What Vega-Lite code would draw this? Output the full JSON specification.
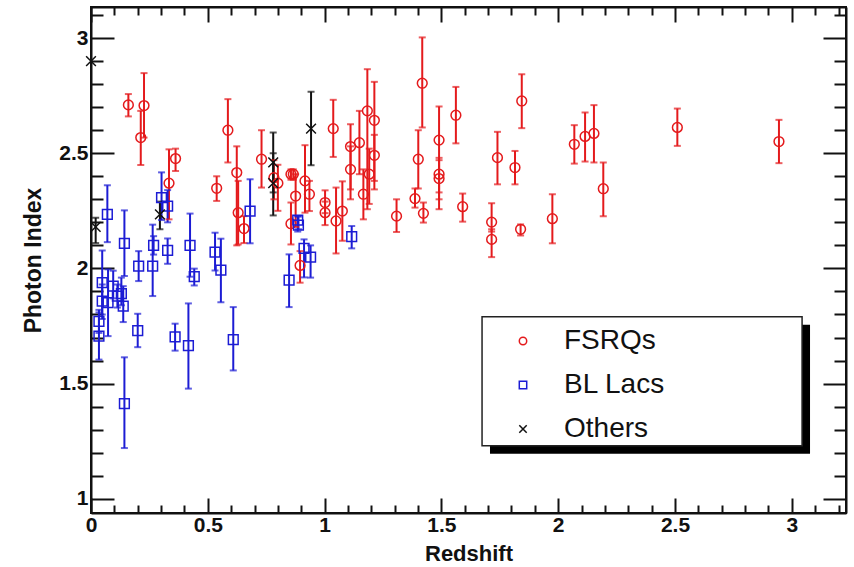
{
  "$schema": "https://vega.github.io/schema/vega-lite/v6.json",
  "width": 755,
  "height": 506,
  "autosize": {"type": "none"},
  "padding": {"left": 91, "top": 7, "right": 8, "bottom": 54},
  "background": "#ffffff",
  "config": {
    "view": {"stroke": "#111111", "strokeWidth": 2},
    "font": "Liberation Sans",
    "axis": {"grid": false, "labelOverlap": false, "labelFlush": false, "labelBound": false, "domainColor": "#111111", "domainWidth": 2, "tickColor": "#111111", "tickWidth": 2, "labelColor": "#111111", "titleColor": "#111111", "labelFont": "Liberation Sans", "titleFont": "Liberation Sans", "labelFontWeight": "bold", "titleFontWeight": "bold"}
  },
  "datasets": {
    "box": [{"k": 1}],
    "pts": [
      {"type": "FSRQs", "z": 0.160, "g": 2.710, "lo": 2.660, "hi": 2.757},
      {"type": "FSRQs", "z": 0.227, "g": 2.707, "lo": 2.568, "hi": 2.848},
      {"type": "FSRQs", "z": 0.213, "g": 2.568, "lo": 2.449, "hi": 2.684},
      {"type": "FSRQs", "z": 0.334, "g": 2.370, "lo": 2.213, "hi": 2.517},
      {"type": "FSRQs", "z": 0.362, "g": 2.477, "lo": 2.423, "hi": 2.520},
      {"type": "FSRQs", "z": 0.538, "g": 2.348, "lo": 2.293, "hi": 2.400},
      {"type": "FSRQs", "z": 0.586, "g": 2.600, "lo": 2.460, "hi": 2.735},
      {"type": "FSRQs", "z": 0.624, "g": 2.416, "lo": 2.100, "hi": 2.530},
      {"type": "FSRQs", "z": 0.630, "g": 2.242, "lo": 2.104, "hi": 2.380},
      {"type": "FSRQs", "z": 0.655, "g": 2.173, "lo": 2.110, "hi": 2.227},
      {"type": "FSRQs", "z": 0.730, "g": 2.474, "lo": 2.351, "hi": 2.600},
      {"type": "FSRQs", "z": 0.783, "g": 2.394, "lo": 2.300, "hi": 2.470},
      {"type": "FSRQs", "z": 0.800, "g": 2.370, "lo": 2.250, "hi": 2.450},
      {"type": "FSRQs", "z": 0.856, "g": 2.409, "lo": 2.385, "hi": 2.430},
      {"type": "FSRQs", "z": 0.866, "g": 2.409, "lo": 2.385, "hi": 2.430},
      {"type": "FSRQs", "z": 0.876, "g": 2.314, "lo": 2.180, "hi": 2.409},
      {"type": "FSRQs", "z": 0.856, "g": 2.194, "lo": 2.104, "hi": 2.286},
      {"type": "FSRQs", "z": 0.895, "g": 2.013, "lo": 1.938, "hi": 2.075},
      {"type": "FSRQs", "z": 0.916, "g": 2.380, "lo": 2.242, "hi": 2.535},
      {"type": "FSRQs", "z": 0.935, "g": 2.322, "lo": 2.249, "hi": 2.380},
      {"type": "FSRQs", "z": 1.002, "g": 2.286, "lo": 2.240, "hi": 2.339},
      {"type": "FSRQs", "z": 1.002, "g": 2.242, "lo": 2.188, "hi": 2.290},
      {"type": "FSRQs", "z": 1.037, "g": 2.607, "lo": 2.484, "hi": 2.732},
      {"type": "FSRQs", "z": 1.049, "g": 2.206, "lo": 2.065, "hi": 2.351},
      {"type": "FSRQs", "z": 1.076, "g": 2.249, "lo": 2.120, "hi": 2.378},
      {"type": "FSRQs", "z": 1.111, "g": 2.529, "lo": 2.343, "hi": 2.626},
      {"type": "FSRQs", "z": 1.111, "g": 2.430, "lo": 2.300, "hi": 2.530},
      {"type": "FSRQs", "z": 1.149, "g": 2.546, "lo": 2.409, "hi": 2.684},
      {"type": "FSRQs", "z": 1.166, "g": 2.322, "lo": 2.213, "hi": 2.430},
      {"type": "FSRQs", "z": 1.183, "g": 2.684, "lo": 2.257, "hi": 2.865},
      {"type": "FSRQs", "z": 1.191, "g": 2.409, "lo": 2.280, "hi": 2.520},
      {"type": "FSRQs", "z": 1.213, "g": 2.643, "lo": 2.343, "hi": 2.810},
      {"type": "FSRQs", "z": 1.213, "g": 2.491, "lo": 2.380, "hi": 2.580},
      {"type": "FSRQs", "z": 1.308, "g": 2.227, "lo": 2.158, "hi": 2.300},
      {"type": "FSRQs", "z": 1.387, "g": 2.303, "lo": 2.264, "hi": 2.347},
      {"type": "FSRQs", "z": 1.401, "g": 2.474, "lo": 2.347, "hi": 2.600},
      {"type": "FSRQs", "z": 1.418, "g": 2.804, "lo": 2.612, "hi": 3.003},
      {"type": "FSRQs", "z": 1.423, "g": 2.239, "lo": 2.199, "hi": 2.286},
      {"type": "FSRQs", "z": 1.490, "g": 2.557, "lo": 2.257, "hi": 2.703},
      {"type": "FSRQs", "z": 1.490, "g": 2.409, "lo": 2.330, "hi": 2.480},
      {"type": "FSRQs", "z": 1.490, "g": 2.390, "lo": 2.300, "hi": 2.470},
      {"type": "FSRQs", "z": 1.562, "g": 2.665, "lo": 2.543, "hi": 2.788},
      {"type": "FSRQs", "z": 1.591, "g": 2.268, "lo": 2.203, "hi": 2.325},
      {"type": "FSRQs", "z": 1.715, "g": 2.201, "lo": 2.160, "hi": 2.283},
      {"type": "FSRQs", "z": 1.715, "g": 2.126, "lo": 2.049, "hi": 2.170},
      {"type": "FSRQs", "z": 1.740, "g": 2.481, "lo": 2.365, "hi": 2.593},
      {"type": "FSRQs", "z": 1.815, "g": 2.438, "lo": 2.365, "hi": 2.510},
      {"type": "FSRQs", "z": 1.839, "g": 2.170, "lo": 2.143, "hi": 2.191},
      {"type": "FSRQs", "z": 1.844, "g": 2.727, "lo": 2.609, "hi": 2.843},
      {"type": "FSRQs", "z": 1.975, "g": 2.216, "lo": 2.109, "hi": 2.322},
      {"type": "FSRQs", "z": 2.069, "g": 2.539, "lo": 2.455, "hi": 2.622},
      {"type": "FSRQs", "z": 2.115, "g": 2.573, "lo": 2.464, "hi": 2.677},
      {"type": "FSRQs", "z": 2.153, "g": 2.586, "lo": 2.460, "hi": 2.709},
      {"type": "FSRQs", "z": 2.193, "g": 2.346, "lo": 2.227, "hi": 2.460},
      {"type": "FSRQs", "z": 2.510, "g": 2.612, "lo": 2.532, "hi": 2.694},
      {"type": "FSRQs", "z": 2.945, "g": 2.551, "lo": 2.457, "hi": 2.645},
      {"type": "BL Lacs", "z": 0.070, "g": 2.235, "lo": 2.114, "hi": 2.361},
      {"type": "BL Lacs", "z": 0.143, "g": 2.109, "lo": 1.967, "hi": 2.252},
      {"type": "BL Lacs", "z": 0.204, "g": 2.010, "lo": 1.945, "hi": 2.075},
      {"type": "BL Lacs", "z": 0.264, "g": 2.010, "lo": 1.880, "hi": 2.190},
      {"type": "BL Lacs", "z": 0.268, "g": 2.100, "lo": 2.060, "hi": 2.140},
      {"type": "BL Lacs", "z": 0.328, "g": 2.078, "lo": 2.020, "hi": 2.130},
      {"type": "BL Lacs", "z": 0.302, "g": 2.307, "lo": 2.210, "hi": 2.417},
      {"type": "BL Lacs", "z": 0.328, "g": 2.270, "lo": 2.200, "hi": 2.340},
      {"type": "BL Lacs", "z": 0.424, "g": 2.100, "lo": 1.964, "hi": 2.238},
      {"type": "BL Lacs", "z": 0.442, "g": 1.964, "lo": 1.926, "hi": 1.999},
      {"type": "BL Lacs", "z": 0.531, "g": 2.071, "lo": 1.991, "hi": 2.155},
      {"type": "BL Lacs", "z": 0.556, "g": 1.993, "lo": 1.853, "hi": 2.129},
      {"type": "BL Lacs", "z": 0.681, "g": 2.249, "lo": 2.109, "hi": 2.387},
      {"type": "BL Lacs", "z": 0.848, "g": 1.949, "lo": 1.832, "hi": 2.061},
      {"type": "BL Lacs", "z": 0.888, "g": 2.188, "lo": 2.170, "hi": 2.225},
      {"type": "BL Lacs", "z": 0.885, "g": 2.210, "lo": 2.160, "hi": 2.227},
      {"type": "BL Lacs", "z": 0.912, "g": 2.087, "lo": 1.961, "hi": 2.126},
      {"type": "BL Lacs", "z": 0.940, "g": 2.049, "lo": 1.960, "hi": 2.100},
      {"type": "BL Lacs", "z": 1.116, "g": 2.138, "lo": 2.087, "hi": 2.184},
      {"type": "BL Lacs", "z": 0.609, "g": 1.691, "lo": 1.557, "hi": 1.832},
      {"type": "BL Lacs", "z": 0.417, "g": 1.665, "lo": 1.478, "hi": 1.848},
      {"type": "BL Lacs", "z": 0.360, "g": 1.703, "lo": 1.643, "hi": 1.760},
      {"type": "BL Lacs", "z": 0.200, "g": 1.730, "lo": 1.658, "hi": 1.803},
      {"type": "BL Lacs", "z": 0.143, "g": 1.413, "lo": 1.220, "hi": 1.614},
      {"type": "BL Lacs", "z": 0.034, "g": 1.770, "lo": 1.720, "hi": 1.820},
      {"type": "BL Lacs", "z": 0.034, "g": 1.706, "lo": 1.604, "hi": 1.809},
      {"type": "BL Lacs", "z": 0.048, "g": 1.938, "lo": 1.800, "hi": 2.078},
      {"type": "BL Lacs", "z": 0.048, "g": 1.858, "lo": 1.780, "hi": 1.930},
      {"type": "BL Lacs", "z": 0.073, "g": 1.851, "lo": 1.706, "hi": 1.996},
      {"type": "BL Lacs", "z": 0.095, "g": 1.923, "lo": 1.870, "hi": 1.990},
      {"type": "BL Lacs", "z": 0.113, "g": 1.880, "lo": 1.830, "hi": 1.930},
      {"type": "BL Lacs", "z": 0.130, "g": 1.891, "lo": 1.840, "hi": 1.960},
      {"type": "BL Lacs", "z": 0.138, "g": 1.836, "lo": 1.767, "hi": 1.923},
      {"type": "Others", "z": 0.000, "g": 2.900, "lo": null, "hi": null},
      {"type": "Others", "z": 0.020, "g": 2.180, "lo": 2.110, "hi": 2.220},
      {"type": "Others", "z": 0.295, "g": 2.235, "lo": 2.170, "hi": 2.290},
      {"type": "Others", "z": 0.780, "g": 2.460, "lo": 2.330, "hi": 2.590},
      {"type": "Others", "z": 0.780, "g": 2.370, "lo": 2.230, "hi": 2.500},
      {"type": "Others", "z": 0.942, "g": 2.607, "lo": 2.448, "hi": 2.767}
    ]
  },
  "layer": [
    {
      "data": {"name": "box"},
      "mark": {"type": "rect", "fill": "#000000"},
      "encoding": {
        "x": {"datum": 1.708, "type": "quantitative", "scale": {"domain": [0, 3.232], "nice": false, "zero": false}, "axis": null},
        "x2": {"datum": 3.078},
        "y": {"datum": 1.755, "type": "quantitative", "scale": {"domain": [0.938, 3.135], "nice": false, "zero": false}, "axis": null},
        "y2": {"datum": 1.195}
      }
    },
    {
      "data": {"name": "box"},
      "mark": {"type": "rect", "fill": "#ffffff", "stroke": "#222222", "strokeWidth": 1.5},
      "encoding": {
        "x": {"datum": 1.674, "type": "quantitative", "scale": {"domain": [0, 3.232], "nice": false, "zero": false}, "axis": null},
        "x2": {"datum": 3.044},
        "y": {"datum": 1.790, "type": "quantitative", "scale": {"domain": [0.938, 3.135], "nice": false, "zero": false}, "axis": null},
        "y2": {"datum": 1.230}
      }
    },
    {
      "data": {"name": "pts"},
      "transform": [{"filter": "datum.lo != null"}],
      "mark": {"type": "rule", "strokeWidth": 2},
      "encoding": {
        "x": {"field": "z", "type": "quantitative", "scale": {"domain": [0, 3.232], "nice": false, "zero": false},
          "axis": {"orient": "top", "values": [0,0.1,0.2,0.3,0.4,0.5,0.6,0.7,0.8,0.9,1,1.1,1.2,1.3,1.4,1.5,1.6,1.7,1.8,1.9,2,2.1,2.2,2.3,2.4,2.5,2.6,2.7,2.8,2.9,3,3.1,3.2], "labels": false, "title": null,
            "tickSize": {"condition": {"test": "abs(datum.value*2-round(datum.value*2))<0.001", "value": -15}, "value": -8}}},
        "y": {"field": "lo", "type": "quantitative", "scale": {"domain": [0.938, 3.135], "nice": false, "zero": false},
          "axis": {"orient": "right", "values": [1,1.1,1.2,1.3,1.4,1.5,1.6,1.7,1.8,1.9,2,2.1,2.2,2.3,2.4,2.5,2.6,2.7,2.8,2.9,3,3.1], "labels": false, "title": null,
            "tickSize": {"condition": {"test": "abs(datum.value*2-round(datum.value*2))<0.001", "value": -23}, "value": -12}}},
        "y2": {"field": "hi"},
        "color": {"condition": [{"test": "datum.type == 'FSRQs'", "value": "#e41a1c"}, {"test": "datum.type == 'BL Lacs'", "value": "#1c1cd4"}], "value": "#111111"}
      }
    },
    {
      "data": {"name": "pts"},
      "transform": [{"filter": "datum.lo != null"}],
      "mark": {"type": "tick", "orient": "horizontal", "size": 7, "thickness": 2},
      "encoding": {
        "x": {"field": "z", "type": "quantitative", "scale": {"domain": [0, 3.232], "nice": false, "zero": false}, "axis": null},
        "y": {"field": "lo", "type": "quantitative", "scale": {"domain": [0.938, 3.135], "nice": false, "zero": false}, "axis": null},
        "color": {"condition": [{"test": "datum.type == 'FSRQs'", "value": "#e41a1c"}, {"test": "datum.type == 'BL Lacs'", "value": "#1c1cd4"}], "value": "#111111"}
      }
    },
    {
      "data": {"name": "pts"},
      "transform": [{"filter": "datum.lo != null"}],
      "mark": {"type": "tick", "orient": "horizontal", "size": 7, "thickness": 2},
      "encoding": {
        "x": {"field": "z", "type": "quantitative", "scale": {"domain": [0, 3.232], "nice": false, "zero": false}, "axis": null},
        "y": {"field": "hi", "type": "quantitative", "scale": {"domain": [0.938, 3.135], "nice": false, "zero": false}, "axis": null},
        "color": {"condition": [{"test": "datum.type == 'FSRQs'", "value": "#e41a1c"}, {"test": "datum.type == 'BL Lacs'", "value": "#1c1cd4"}], "value": "#111111"}
      }
    },
    {
      "data": {"name": "pts"},
      "mark": {"type": "point", "filled": false, "strokeWidth": 1.5, "size": 95, "opacity": 1},
      "encoding": {
        "x": {"field": "z", "type": "quantitative", "scale": {"domain": [0, 3.232], "nice": false, "zero": false},
          "axis": {"orient": "bottom", "values": [0,0.1,0.2,0.3,0.4,0.5,0.6,0.7,0.8,0.9,1,1.1,1.2,1.3,1.4,1.5,1.6,1.7,1.8,1.9,2,2.1,2.2,2.3,2.4,2.5,2.6,2.7,2.8,2.9,3,3.1,3.2], "format": "~g",
            "labelExpr": "abs(datum.value*2-round(datum.value*2))<0.001 ? datum.label : ''",
            "tickSize": {"condition": {"test": "abs(datum.value*2-round(datum.value*2))<0.001", "value": -15}, "value": -8},
            "labelFontSize": 21, "labelPadding": 16, "title": "Redshift", "titleFontSize": 22, "titlePadding": 1}},
        "y": {"field": "g", "type": "quantitative", "scale": {"domain": [0.938, 3.135], "nice": false, "zero": false},
          "axis": {"orient": "left", "values": [1,1.1,1.2,1.3,1.4,1.5,1.6,1.7,1.8,1.9,2,2.1,2.2,2.3,2.4,2.5,2.6,2.7,2.8,2.9,3,3.1], "format": "~g",
            "labelExpr": "abs(datum.value*2-round(datum.value*2))<0.001 ? datum.label : ''",
            "tickSize": {"condition": {"test": "abs(datum.value*2-round(datum.value*2))<0.001", "value": -23}, "value": -12},
            "labelFontSize": 21, "labelPadding": 26, "title": "Photon Index", "titleFontSize": 23, "titlePadding": 13}},
        "color": {"field": "type", "type": "nominal", "scale": {"domain": ["FSRQs", "BL Lacs", "Others"], "range": ["#e41a1c", "#1c1cd4", "#111111"]},
          "legend": {"orient": "none", "legendX": 418, "legendY": 320, "title": null, "labelFontSize": 28, "labelFont": "Liberation Sans", "labelColor": "#111111", "symbolSize": 55, "symbolStrokeWidth": 1.5, "rowPadding": 16, "labelOffset": 27, "padding": 0}},
        "shape": {"field": "type", "type": "nominal", "scale": {"domain": ["FSRQs", "BL Lacs", "Others"], "range": ["circle", "square", "M-1,-1L1,1M-1,1L1,-1"]},
          "legend": {"orient": "none", "legendX": 418, "legendY": 320, "title": null, "labelFontSize": 28, "labelFont": "Liberation Sans", "labelColor": "#111111", "symbolSize": 55, "symbolStrokeWidth": 1.5, "rowPadding": 16, "labelOffset": 27, "padding": 0}}
      }
    }
  ],
  "resolve": {"axis": {"x": "independent", "y": "independent"}}
}
